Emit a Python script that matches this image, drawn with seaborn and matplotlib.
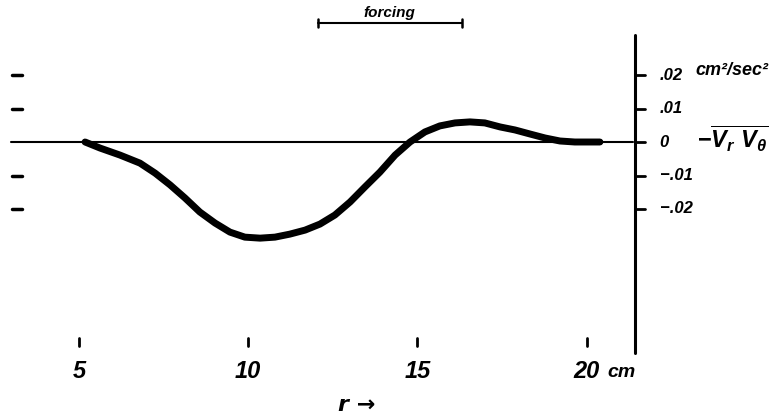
import numpy as np
import pandas as pd
import seaborn as sns
import matplotlib.pyplot as plt

# radius (cm) and -<Vr Vtheta> (cm^2/sec^2)
r_cm = [5.18, 5.62, 6.21, 6.80, 7.25, 7.69, 8.13, 8.57, 9.02, 9.46, 9.90,
        10.35, 10.79, 11.23, 11.68, 12.12, 12.56, 13.01, 13.45, 13.89, 14.34,
        14.78, 15.22, 15.66, 16.11, 16.55, 16.99, 17.44, 17.88, 18.32, 18.77,
        19.21, 19.65, 20.10, 20.39]
stress = [0.0, -0.0018, -0.0039, -0.0063, -0.0093, -0.0128, -0.0167, -0.0209,
          -0.0242, -0.0269, -0.0284, -0.0287, -0.0284, -0.0275, -0.0263,
          -0.0245, -0.0218, -0.0179, -0.0134, -0.0090, -0.0039, 0.0, 0.0030,
          0.0048, 0.0057, 0.0060, 0.0057, 0.0045, 0.0036, 0.0024, 0.0012,
          0.0003, 0.0, 0.0, 0.0]

x_ticks = [5, 10, 15, 20]
x_labels = ['5', '10', '15', '20']
y_ticks = [0.02, 0.01, 0.0, -0.01, -0.02]
y_labels = ['.02', '.01', '0', '\u2212.01', '\u2212.02']
forcing_range = [12.06, 16.31]

df = pd.DataFrame({'r': r_cm, 'v': stress})

sns.set_style('white')
plt.rcParams['font.family'] = ['Liberation Sans', 'DejaVu Sans']
plt.rcParams['mathtext.fontset'] = 'custom'
plt.rcParams['mathtext.rm'] = 'Liberation Sans:bold'
plt.rcParams['mathtext.it'] = 'Liberation Sans:italic:bold'

fig = plt.figure(figsize=(7.83, 4.18), dpi=100)
ax = fig.add_axes([0, 0, 1, 1])
ax.set_xlim(2.666, 25.80)
ax.set_ylim(-0.08239, 0.04239)
ax.axis('off')

txt = dict(color='black', style='italic', weight='bold')

# zero line and the vertical scale
ax.plot([2.99, 21.37], [0, 0], color='black', lw=1.5)
ax.plot([21.42, 21.42], [-0.0630, 0.0319], color='black', lw=2.2)

# the profile
sns.lineplot(data=df, x='r', y='v', ax=ax, color='black', lw=5,
             solid_capstyle='round', solid_joinstyle='round')

# y tick marks, both sides
for yv, lab in zip(y_ticks, y_labels):
    ax.plot([21.45, 21.72], [yv, yv], color='black', lw=2)
    ax.text(22.16, yv, lab, fontsize=12, va='center', ha='left', **txt)
    if yv != 0:
        ax.plot([3.02, 3.32], [yv, yv], color='black', lw=2.5)

ax.text(23.2, 0.0212, 'cm\u00b2/sec\u00b2', fontsize=13, va='center', ha='left', **txt)
ax.text(23.25, 0.0010, r'$-\overline{V_r\ V_\theta}$', fontsize=17,
        va='center', ha='left', color='black')

# x tick marks and labels
for xv, lab in zip(x_ticks, x_labels):
    ax.plot([xv, xv], [-0.0585, -0.0609], color='black', lw=2)
    ax.text(xv, -0.0684, lab, fontsize=17, va='center', ha='center', **txt)
ax.text(20.6, -0.0688, 'cm', fontsize=14, va='center', ha='left', **txt)
ax.text(13.21, -0.0785, 'r \u2192', fontsize=16, va='center', ha='center',
        family=['DejaVu Sans'], **txt)

# forcing bar
ax.plot(forcing_range, [0.0355, 0.0355], color='black', lw=1.5)
for xv in forcing_range:
    ax.plot([xv, xv], [0.0343, 0.0367], color='black', lw=1.8)
ax.text(sum(forcing_range) / 2, 0.0385, 'forcing', fontsize=11, va='center',
        ha='center', **txt)

fig.savefig('out.png', dpi=100)
